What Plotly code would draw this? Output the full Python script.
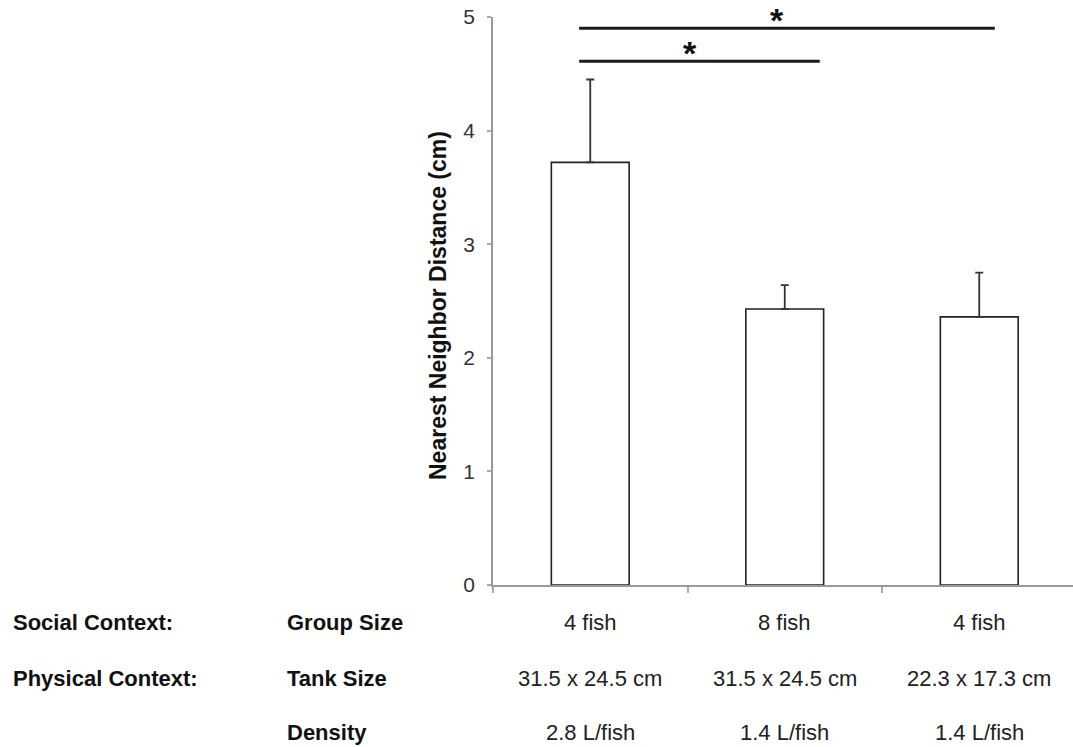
import plotly.graph_objects as go

# ---- data ----
group_size = ["4 fish", "8 fish", "4 fish"]
tank_size = ["31.5 x 24.5 cm", "31.5 x 24.5 cm", "22.3 x 17.3 cm"]
density = ["2.8 L/fish", "1.4 L/fish", "1.4 L/fish"]
means = [3.72, 2.43, 2.36]
sem = [0.73, 0.21, 0.39]
row_labels_left = ["Social Context:", "Physical Context:", ""]
row_labels_mid = ["Group Size", "Tank Size", "Density"]
# significance comparisons: (start group, end group, level, label)
sig_start = [0, 0]
sig_end = [1, 2]
sig_level = [4.61, 4.90]
sig_label = ["*", "*"]
y_ticks = [0, 1, 2, 3, 4, 5]

x = list(range(len(means)))

W, H = 1073, 747
ML, MR, MT, MB = 493, 0, 17, 162
plot_w = W - ML - MR
plot_h = H - MT - MB
unit_px = 194.5
x_lo = -0.5
x_hi = x_lo + plot_w / unit_px

FONT = "Liberation Sans, Arial, Helvetica, sans-serif"

fig = go.Figure()
fig.add_trace(go.Bar(
    x=x, y=means, width=0.4,
    marker=dict(color="white", line=dict(color="#222222", width=1.6)),
    error_y=dict(type="data", symmetric=False, array=sem,
                 arrayminus=[0] * len(sem), color="#333333",
                 thickness=1.8, width=4),
    showlegend=False,
))

# significance bars
for s, e, lvl, lab in zip(sig_start, sig_end, sig_level, sig_label):
    x0 = s - 0.057
    x1 = e + (0.18 if e == 1 else 0.08)
    fig.add_shape(type="line", xref="x", yref="y", x0=x0, x1=x1, y0=lvl, y1=lvl,
                  line=dict(color="#1a1a1a", width=3))
    fig.add_annotation(x=(x0 + x1) / 2 - 0.05, y=lvl, xref="x", yref="y",
                       text="<b>" + lab + "</b>", showarrow=False, yanchor="bottom", yshift=-13,
                       font=dict(family=FONT, size=34, color="#111111"))

def px_to_paper_y(py):
    return (H - MB - py) / plot_h

def px_to_paper_x(px):
    return (px - ML) / plot_w

rows = [group_size, tank_size, density]
row_y = [622, 678, 733]
for vals, py in zip(rows, row_y):
    for xi, v in zip(x, vals):
        fig.add_annotation(x=xi, y=px_to_paper_y(py), xref="x", yref="paper",
                           text=v, showarrow=False, xanchor="center", yanchor="middle",
                           font=dict(family=FONT, size=22, color="#222222"))

for lab_l, lab_m, py in zip(row_labels_left, row_labels_mid, row_y):
    if lab_l:
        fig.add_annotation(x=px_to_paper_x(11), y=px_to_paper_y(py), xref="paper", yref="paper",
                           text="<b>" + lab_l + "</b>", showarrow=False,
                           xanchor="left", yanchor="middle",
                           font=dict(family=FONT, size=22, color="#111111"))
    fig.add_annotation(x=px_to_paper_x(285), y=px_to_paper_y(py), xref="paper", yref="paper",
                       text="<b>" + lab_m + "</b>", showarrow=False,
                       xanchor="left", yanchor="middle",
                       font=dict(family=FONT, size=22, color="#111111"))

# y-axis title
fig.add_annotation(x=px_to_paper_x(438), y=px_to_paper_y(306), xref="paper", yref="paper",
                   text="<b>Nearest Neighbor Distance (cm)</b>", textangle=-90,
                   showarrow=False, xanchor="center", yanchor="middle",
                   font=dict(family=FONT, size=23, color="#111111"))

fig.update_layout(
    width=W, height=H,
    margin=dict(l=ML, r=MR, t=MT, b=MB, pad=0),
    paper_bgcolor="white", plot_bgcolor="white",
    font=dict(family=FONT),
    xaxis=dict(range=[x_lo, x_hi], showgrid=False, zeroline=False,
               showline=True, linecolor="#999999", linewidth=1.5,
               tickmode="array", tickvals=[-0.5, 0.5, 1.5, 2.5],
               ticks="outside", ticklen=6, tickcolor="#aaaaaa", tickwidth=1.5,
               showticklabels=False),
    yaxis=dict(range=[0, 5], showgrid=False, zeroline=False,
               showline=True, linecolor="#999999", linewidth=1.5,
               tickmode="array", tickvals=y_ticks,
               ticks="outside", ticklen=4, tickcolor="#aaaaaa", tickwidth=1.5,
               ticklabelstandoff=8,
               tickfont=dict(family=FONT, size=21, color="#333333")),
)

fig.write_html("out.html")
